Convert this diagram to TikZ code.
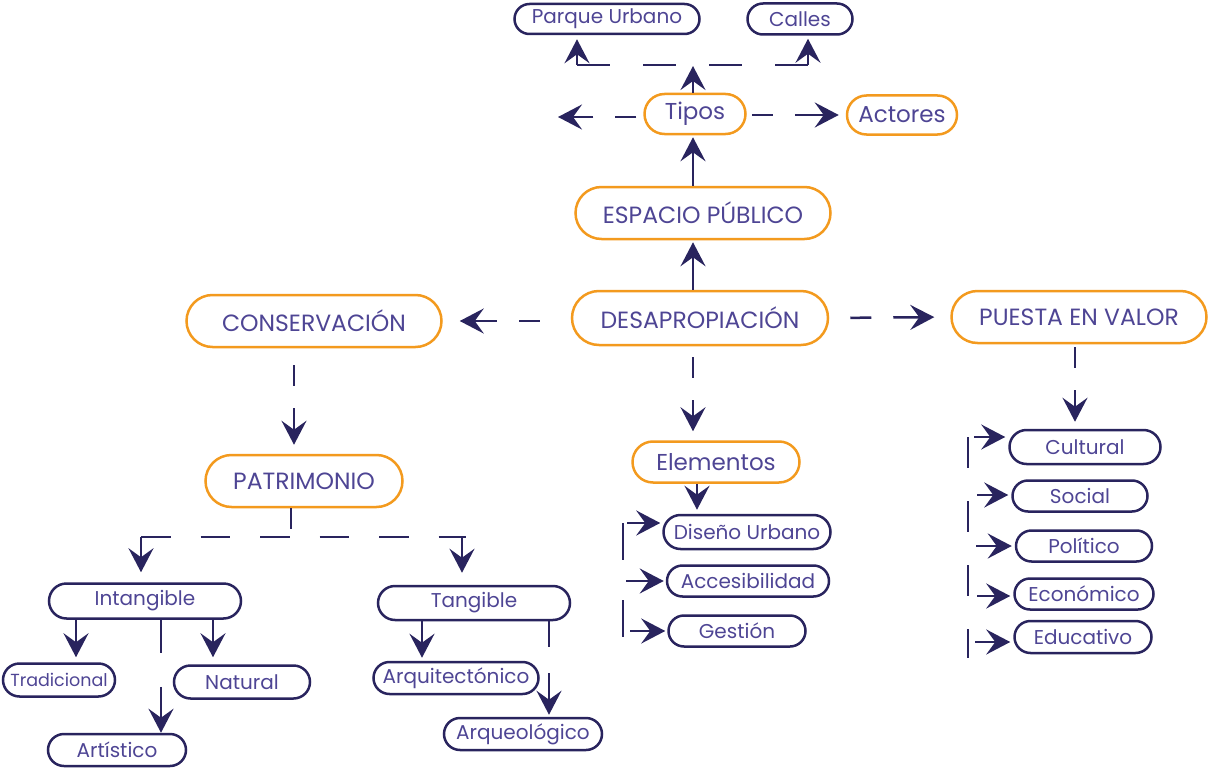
\documentclass[tikz,border=0pt]{standalone}
\usepackage{fontspec}
\setmainfont{Poppins}
\usetikzlibrary{arrows.meta,shapes.misc}
\definecolor{navy}{HTML}{29245E}
\definecolor{naranja}{HTML}{F39A1E}
\definecolor{letra}{HTML}{4E4594}
\tikzset{
  caja/.style={rounded rectangle, draw, line width=2.5pt, text=letra, inner sep=0pt},
  mayor/.style={caja, draw=naranja, font=\fontsize{23.5}{24}\selectfont},
  menor/.style={caja, draw=naranja, font=\fontsize{23}{24}\selectfont},
  hoja/.style={caja, draw=navy, font=\fontsize{20}{21}\selectfont},
  linea/.style={draw=navy, line width=2.5pt},
  flecha/.style={linea, -{Stealth[length=24pt,width=25pt,inset=9pt]}},
  salto/.style={dash pattern=on 0pt off #1 on 21pt off 22pt on 400pt},
}
\begin{document}
\begin{tikzpicture}[x=1pt,y=-1pt]
  \useasboundingbox (0,0) rectangle (1208,768);
  \draw
    (695,114) node[menor, minimum width=101, minimum height=40] (tipos){Tipos}
    (902,115) node[menor, minimum width=110, minimum height=39] (actores){Actores}
    (703,213) node[mayor, minimum width=255, minimum height=52] (espacio){ESPACIO PÚBLICO}
    (700,318) node[mayor, minimum width=256, minimum height=54] (desap){DESAPROPIACIÓN}
    (314,321) node[mayor, minimum width=255, minimum height=52] (conserv){CONSERVACIÓN}
    (1079,317) node[mayor, minimum width=255, minimum height=52] (puesta){PUESTA EN VALOR}
    (304,481) node[mayor, minimum width=197, minimum height=52] (patrimonio){PATRIMONIO}
    (716,462) node[menor, minimum width=167, minimum height=41] (elementos){Elementos};
  \draw
    (607,19) node[hoja, minimum width=185, minimum height=30] (parque){Parque Urbano}
    (800,19) node[hoja, minimum width=105, minimum height=31] (calles){Calles}
    (747,532) node[hoja, minimum width=167, minimum height=34] (diseno){Diseño Urbano}
    (748,581) node[hoja, minimum width=162, minimum height=31] (acces){Accesibilidad}
    (737,631) node[hoja, minimum width=137, minimum height=31] (gestion){Gestión}
    (1085,447) node[hoja, minimum width=151, minimum height=34] (cultural){Cultural}
    (1080,496) node[hoja, minimum width=135, minimum height=31] (social){Social}
    (1084,546) node[hoja, minimum width=136, minimum height=31] (politico){Político}
    (1084,594) node[hoja, minimum width=139, minimum height=31] (economico){Económico}
    (1083,637) node[hoja, minimum width=137, minimum height=32] (educativo){Educativo}
    (145,601) node[hoja, minimum width=192, minimum height=35] (intangible){Intangible}
    (474,603) node[hoja, minimum width=192, minimum height=34] (tangible){Tangible}
    (59,680) node[hoja, minimum width=112, minimum height=33, font=\fontsize{17.5}{18}\selectfont] (tradicional){Tradicional}
    (242,682) node[hoja, minimum width=136, minimum height=33] (natural){Natural}
    (117,750) node[hoja, minimum width=138, minimum height=32] (artistico){Artístico}
    (456,678) node[hoja, minimum width=165, minimum height=32] (arquitect){Arquitectónico}
    (523,734) node[hoja, minimum width=158, minimum height=32] (arqueol){Arqueológico};
  \coordinate (eje) at (693,0);
  \coordinate (ejeC) at (294,0);
  \coordinate (ejeP) at (1075,0);
  \coordinate (ejeD) at (697,0);
  \coordinate (cruce) at (693,66);
  \coordinate (barI) at (577,65);
  \coordinate (barD) at (808,65);
  \coordinate (izq) at (558,117);
  \coordinate (ladoE) at (623,523);
  \coordinate (finE) at (623,637);
  \coordinate (ladoP) at (968,437);
  \coordinate (finP) at (968,658);
  \coordinate (tallo) at (291,529);
  \coordinate (ramaI) at (141,537);
  \coordinate (ramaD) at (466,537);
  \coordinate (ramaT) at (462,537);
  \coordinate (hijoA) at (76,0);
  \coordinate (hijoB) at (161,0);
  \coordinate (hijoC) at (213,0);
  \coordinate (hijoD) at (422,0);
  \coordinate (hijoE) at (549,0);
  \coordinate (altoS) at (0,495);
  \coordinate (altoEc) at (0,596);
  \coordinate (altoEd) at (0,642);
  \begin{scope}[flecha]
    \draw (cruce |- tipos.north) to (cruce);
    \draw[linea, -, dash pattern=on 33pt off 33pt] (barI) to (barD);
    \draw[shorten >=4pt] (barI) to (barI |- parque.south);
    \draw[shorten >=3pt] (barD) to (barD |- calles.south);
    \draw[salto=7pt] (tipos.west |- izq) to (izq);
    \draw[salto=5pt, shorten >=7pt] (tipos.east |- actores) to (actores.west);
    \draw[shorten >=2pt] (eje |- espacio.north) to (eje |- tipos.south);
    \draw[shorten >=2pt] (eje |- desap.north) to (eje |- espacio.south);
    \draw[salto=31pt, shorten >=17pt] (desap.west |- conserv) to (conserv.east);
    \draw[salto=21pt, shorten >=16pt] (desap.east) to (puesta.west);
    \draw[salto=11pt, shorten >=9pt] (eje |- desap.south) to (eje |- elementos.north);
    \draw[salto=17pt, shorten >=9pt] (ejeC |- conserv.south) to (ejeC |- patrimonio.north);
    \draw[salto=3pt, shorten >=7pt] (ejeP |- puesta.south) to (ejeP |- cultural.north);
    \draw[shorten >=4pt] (ejeD |- elementos.south) to (ejeD |- diseno.north);
    \draw[linea, -, dash pattern=on 37pt off 40pt] (ladoE) to (finE);
    \draw[shorten >=2pt] ([xshift=4pt]ladoE) to (ladoE -| diseno.west);
    \draw[shorten >=2pt] ([xshift=3pt]ladoE |- acces) to (acces.west);
    \draw[shorten >=2pt] ([xshift=7pt]ladoE |- gestion) to (gestion.west);
    \draw[linea, -, dash pattern=on 31pt off 33pt] (ladoP) to (finP);
    \draw[shorten >=3pt] ([xshift=6pt]ladoP) to (ladoP -| cultural.west);
    \draw[shorten >=3pt] ([xshift=9pt]ladoP |- altoS) to (social.west |- altoS);
    \draw[shorten >=3pt] ([xshift=8pt]ladoP |- politico) to (politico.west);
    \draw[shorten >=3pt] ([xshift=9pt]ladoP |- altoEc) to (economico.west |- altoEc);
    \draw[shorten >=3pt] ([xshift=7pt]ladoP |- altoEd) to (educativo.west |- altoEd);
    \draw[linea, -] (tallo |- patrimonio.south) to (tallo);
    \draw[linea, -, dash pattern=on 29.5pt off 30pt] (ramaI) to (ramaD);
    \draw[shorten >=10pt] (ramaI) to (ramaI |- intangible.north);
    \draw[shorten >=12pt] (ramaT) to (ramaT |- tangible.north);
    \draw[shorten >=5pt] (hijoA |- intangible.south) to (hijoA |- tradicional.north);
    \draw[shorten >=7pt] (hijoC |- intangible.south) to (hijoC |- natural.north);
    \draw[dash pattern=on 33pt off 34pt on 400pt] (hijoB |- intangible.south) to (hijoB |- artistico.north);
    \draw[shorten >=3pt] (hijoD |- tangible.south) to (hijoD |- arquitect.north);
    \draw[dash pattern=on 26pt off 26pt on 400pt, shorten >=2pt] (hijoE |- tangible.south) to (hijoE |- arqueol.north);
  \end{scope}
\end{tikzpicture}
\end{document}
